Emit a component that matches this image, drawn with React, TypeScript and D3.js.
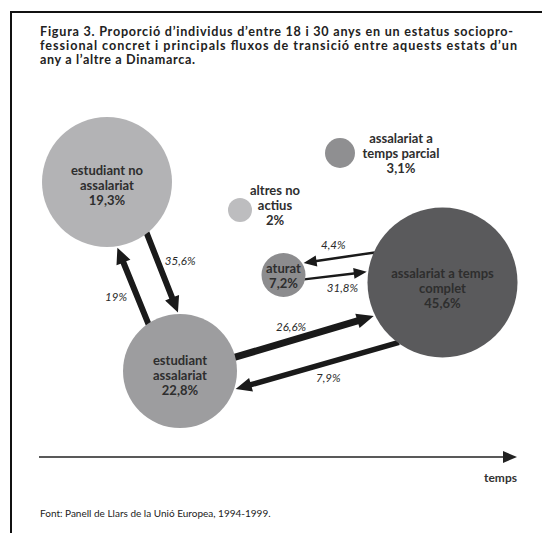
import React from "react";
import * as d3 from "d3";

// states and their share of 18-30 year olds (Denmark)
const states = [
  "estudiant no assalariat",
  "estudiant assalariat",
  "altres no actius",
  "assalariat a temps parcial",
  "aturat",
  "assalariat a temps complet",
];
const stateLines = [
  ["estudiant no", "assalariat"],
  ["estudiant", "assalariat"],
  ["altres no", "actius"],
  ["assalariat a", "temps parcial"],
  ["aturat"],
  ["assalariat a temps", "complet"],
];
const shares = [19.3, 22.8, 2, 3.1, 7.2, 45.6];

// main transition flows between states
const flowSource = [0, 1, 1, 5, 5, 4];
const flowTarget = [1, 0, 5, 1, 4, 5];
const flowShares = [35.6, 19, 26.6, 7.9, 4.4, 31.8];

const titleLines = [
  "Figura 3. Proporció d’individus d’entre 18 i 30 anys en un estatus sociopro-",
  "fessional concret i principals fluxos de transició entre aquests estats d’un",
  "any a l’altre a Dinamarca.",
];
const axisLabel = "temps";
const sourceNote = "Font: Panell de Llars de la Unió Europea, 1994-1999.";

// layout of the diagram (pixels)
const W = 542;
const H = 533;
const nodeLayout = [
  { cx: 107, cy: 182, r: 65, fill: "#b3b3b5", dx: 0, dy: -12 },
  { cx: 180, cy: 371, r: 57, fill: "#9d9d9f", dx: 0, dy: -11 },
  { cx: 240, cy: 210, r: 12, fill: "#bdbdbf", dx: 35, dy: -20 },
  { cx: 340, cy: 153, r: 15, fill: "#8f8f91", dx: 61, dy: -15 },
  { cx: 283.5, cy: 275, r: 22, fill: "#8c8c8e", dx: 0, dy: -7 },
  { cx: 442.5, cy: 282.5, r: 75, fill: "#5a5a5c", dx: 0, dy: -10 },
];
// angle (deg) where each arrow leaves / reaches the circles, and shape
const flowLayout = [
  { a0: 52, a1: -92, w: 6, hw: 15, hl: 16, lx: 18, ly: -12 },
  { a0: -124, a1: 81, w: 6, hw: 15, hl: 16, lx: -17, ly: 10 },
  { a0: -14, a1: 154, w: 7, hw: 15, hl: 17, lx: -13, ly: -10 },
  { a0: 126, a1: 18, w: 5.5, hw: 14, hl: 16, lx: 11, ly: 12 },
  { a0: -156, a1: -31, w: 2.5, hw: 11, hl: 13, lx: -6, ly: -13 },
  { a0: 12, a1: -172, w: 2.5, hw: 11, hl: 13, lx: 7, ly: 12 },
];

const ca = d3.formatLocale({ decimal: ",", thousands: ".", grouping: [3], currency: ["", " €"] });
const pct = (v: number) => ca.format("~g")(v) + "%";

const polygon = d3.line<[number, number]>().curve(d3.curveLinearClosed);

function arrowPath(t: [number, number], p: [number, number], w: number, hw: number, hl: number) {
  const len = Math.hypot(p[0] - t[0], p[1] - t[1]);
  const ux = (p[0] - t[0]) / len;
  const uy = (p[1] - t[1]) / len;
  const nx = -uy;
  const ny = ux;
  const b: [number, number] = [p[0] - ux * hl, p[1] - uy * hl];
  const pts: [number, number][] = [
    [t[0] + nx * w / 2, t[1] + ny * w / 2],
    [b[0] + nx * w / 2, b[1] + ny * w / 2],
    [b[0] + nx * hw / 2, b[1] + ny * hw / 2],
    p,
    [b[0] - nx * hw / 2, b[1] - ny * hw / 2],
    [b[0] - nx * w / 2, b[1] - ny * w / 2],
    [t[0] - nx * w / 2, t[1] - ny * w / 2],
  ];
  return polygon(pts) as string;
}

function onCircle(i: number, deg: number, gap: number): [number, number] {
  const n = nodeLayout[i];
  const a = (deg * Math.PI) / 180;
  return [n.cx + (n.r + gap) * Math.cos(a), n.cy + (n.r + gap) * Math.sin(a)];
}

export default function App() {
  const font = "Lato, 'Open Sans', sans-serif";
  const flows = flowShares.map((v, i) => {
    const f = flowLayout[i];
    const t = onCircle(flowSource[i], f.a0, -1);
    const p = onCircle(flowTarget[i], f.a1, 1.5);
    return {
      v,
      d: arrowPath(t, p, f.w, f.hw, f.hl),
      lx: (t[0] + p[0]) / 2 + f.lx,
      ly: (t[1] + p[1]) / 2 + f.ly,
    };
  });

  const x = d3.scaleLinear().domain([0, 1]).range([39, 517]);
  const axisY = 457;

  return (
    <svg
      width={W}
      height={H}
      style={{ position: "absolute", left: 0, top: 0, background: "#fff" }}
      fontFamily={font}
    >
      <line x1={10} x2={W} y1={12} y2={12} stroke="#111" strokeWidth={2} />
      <line x1={11} x2={11} y1={12} y2={H} stroke="#111" strokeWidth={2} />

      {titleLines.map((s, i) => (
        <text
          key={i}
          x={40}
          y={36 + i * 14}
          fontSize={12.6}
          fontWeight={700}
          fill="#222"
          textLength={i < 2 ? (i === 0 ? 473 : 477) : 155}
          lengthAdjust="spacing"
        >
          {s}
        </text>
      ))}

      {flows.map((f, i) => (
        <path key={i} d={f.d} fill="#1a1a1a" />
      ))}

      {nodeLayout.map((n, i) => (
        <circle key={states[i]} cx={n.cx} cy={n.cy} r={n.r} fill={n.fill} />
      ))}

      {nodeLayout.map((n, i) => {
        const lines = [...stateLines[i], pct(shares[i])];
        return (
          <text
            key={"l" + i}
            x={n.cx + n.dx}
            y={n.cy + n.dy}
            textAnchor="middle"
            dominantBaseline="central"
            fontSize={13}
            fontWeight={700}
            fill="#2e2e2e"
          >
            {lines.map((s, j) => (
              <tspan key={j} x={n.cx + n.dx} dy={j === 0 ? 0 : 15}>
                {s}
              </tspan>
            ))}
          </text>
        );
      })}

      {flows.map((f, i) => (
        <text
          key={"f" + i}
          x={f.lx}
          y={f.ly}
          textAnchor="middle"
          dominantBaseline="central"
          fontSize={11.5}
          fontStyle="italic"
          fill="#2a2a2a"
        >
          {pct(f.v)}
        </text>
      ))}

      <line x1={x(0)} x2={x(1) - 12} y1={axisY} y2={axisY} stroke="#222" strokeWidth={1.5} />
      <path
        d={polygon([
          [x(1), axisY],
          [x(1) - 14, axisY - 6],
          [x(1) - 14, axisY + 6],
        ]) as string}
        fill="#222"
      />
      <text x={x(1)} y={482} textAnchor="end" fontSize={12} fontWeight={700} fill="#333">
        {axisLabel}
      </text>

      <text x={40} y={517} fontSize={10} fill="#222">
        {sourceNote}
      </text>
    </svg>
  );
}
